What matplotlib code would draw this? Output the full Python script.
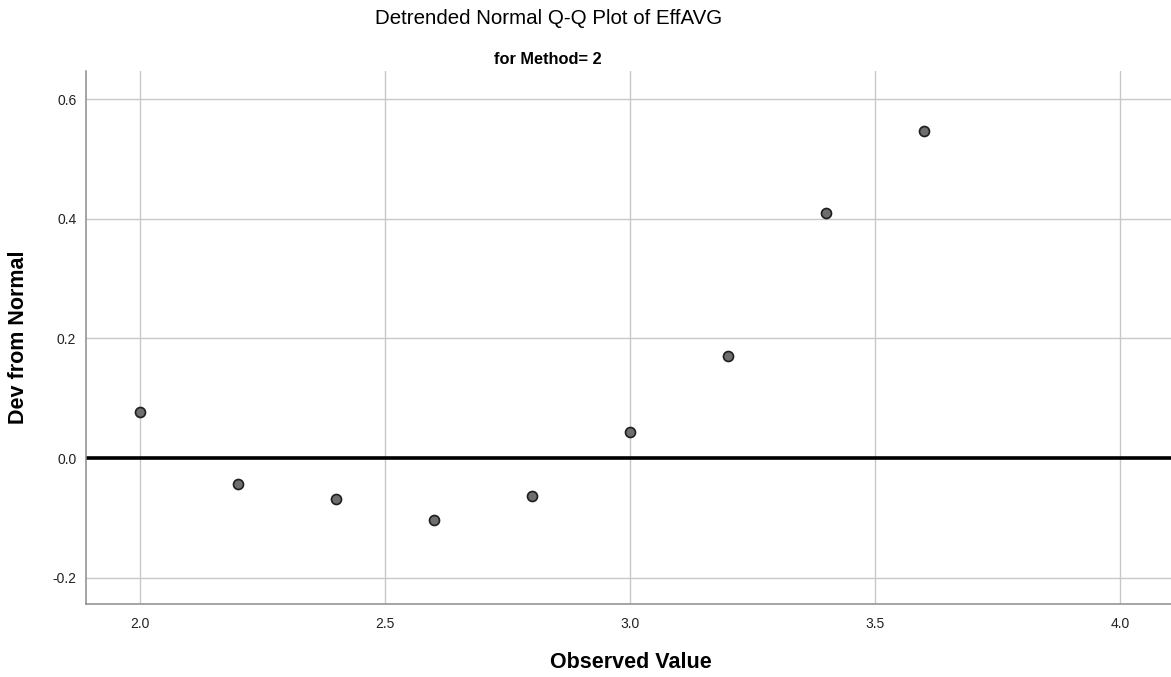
import matplotlib
matplotlib.use("Agg")
import matplotlib.pyplot as plt

# Detrended normal Q-Q values for EffAVG, Method = 2
observed = [2.0, 2.2, 2.4, 2.6, 2.8, 3.0, 3.2, 3.4, 3.6]
dev_from_normal = [0.077, -0.044, -0.069, -0.104, -0.063, 0.044, 0.170, 0.410, 0.547]

x_ticks = [2.0, 2.5, 3.0, 3.5, 4.0]
y_ticks = [-0.2, 0.0, 0.2, 0.4, 0.6]

plt.rcParams["font.family"] = ["Liberation Sans", "DejaVu Sans"]

W, H = 1171, 677
fig = plt.figure(figsize=(W / 100, H / 100), dpi=100)
ax_left, ax_bottom, ax_top = 86, 604, 71
ax_w, ax_h = W - ax_left, ax_bottom - ax_top
ax = fig.add_axes([ax_left / W, (H - ax_bottom) / H, ax_w / W, ax_h / H])

ax.set_xlim(1.890, 4.104)
ax.set_ylim(-0.244, 0.647)

ax.set_xticks(x_ticks)
ax.set_yticks(y_ticks)
ax.set_xticklabels([f"{v:.1f}" for v in x_ticks])
ax.set_yticklabels([f"{v:.1f}" for v in y_ticks])
ax.tick_params(axis="both", length=0, labelsize=10, labelcolor="#222222")
ax.tick_params(axis="x", pad=9)
ax.tick_params(axis="y", pad=7)

ax.grid(True, color="#c8c8c8", linewidth=1.0)
ax.set_axisbelow(True)

for side in ("top", "right"):
    ax.spines[side].set_visible(False)
for side in ("left", "bottom"):
    ax.spines[side].set_color("#8c8c8c")
    ax.spines[side].set_linewidth(1.1)

ax.axhline(0.0, color="black", linewidth=2.6, zorder=2)

ax.plot(observed, dev_from_normal, linestyle="none", marker="o",
        markersize=7.2, markerfacecolor="#6e6e6e", markeredgecolor="#1e1e1e",
        markeredgewidth=1.2, zorder=3, clip_on=False)

xl = ax.set_xlabel("Observed Value", fontsize=15.5, fontweight="bold")
yl = ax.set_ylabel("Dev from Normal", fontsize=15.5, fontweight="bold")
xl.set_va("center")
yl.set_va("center")
ax.xaxis.set_label_coords((631 - ax_left) / ax_w, (ax_bottom - 662) / ax_h)
ax.yaxis.set_label_coords((19 - ax_left) / ax_w, 0.5)

fig.text(549 / W, 1 - 18 / H, "Detrended Normal Q-Q Plot of EffAVG",
         ha="center", va="center", fontsize=14.8, color="black")
fig.text(548 / W, 1 - 59 / H, "for Method= 2",
         ha="center", va="center", fontsize=11.8, fontweight="bold", color="black")

fig.savefig("out.png", dpi=100)
